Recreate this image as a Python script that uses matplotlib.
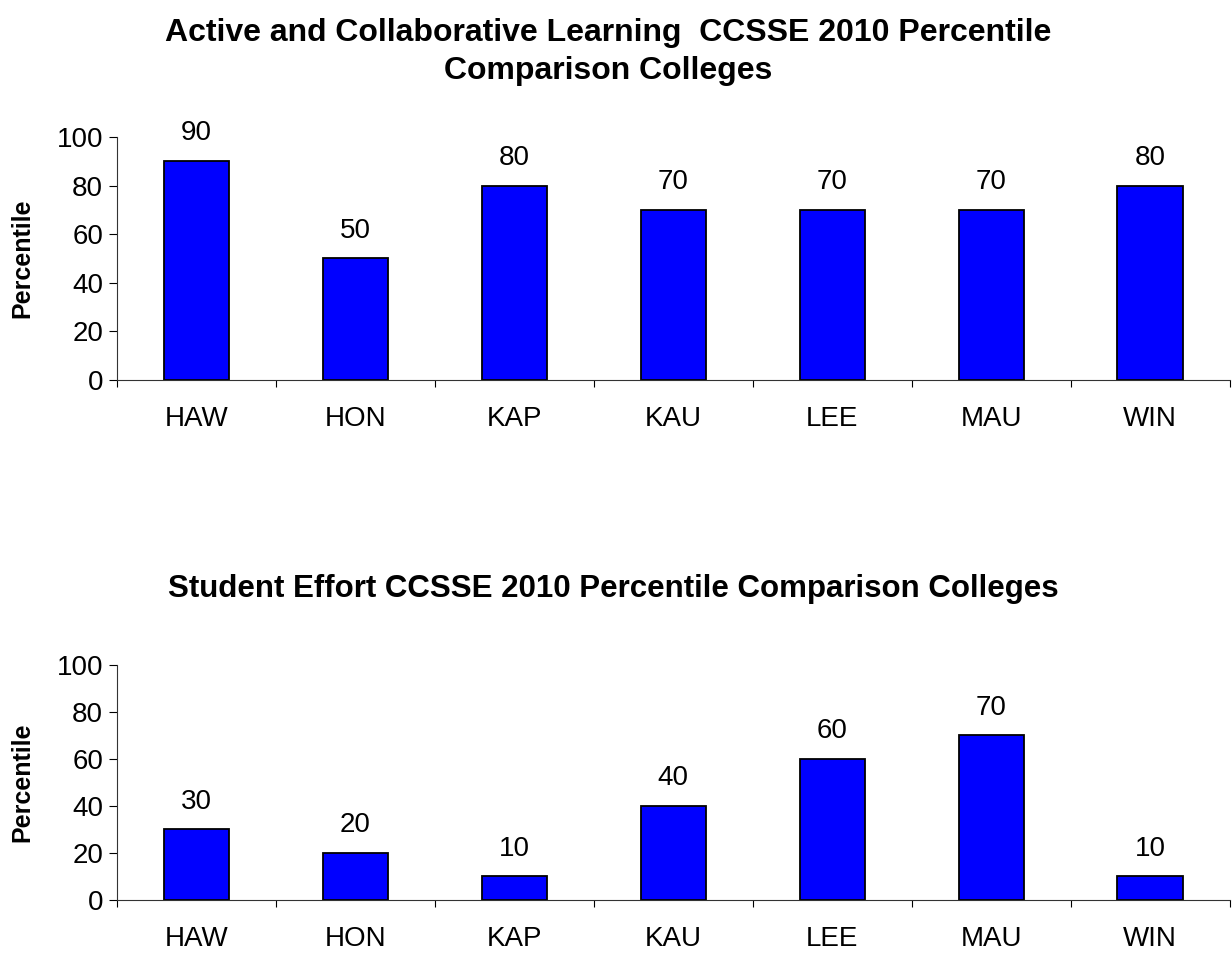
import matplotlib
matplotlib.use("Agg")
from matplotlib import pyplot as plt
import numpy as np

colleges = ["HAW", "HON", "KAP", "KAU", "LEE", "MAU", "WIN"]
active_learning = [90, 50, 80, 70, 70, 70, 80]
student_effort = [30, 20, 10, 40, 60, 70, 10]

title_top = "Active and Collaborative Learning  CCSSE 2010 Percentile\nComparison Colleges"
title_bottom = "Student Effort CCSSE 2010 Percentile Comparison Colleges"

plt.rcParams['font.family'] = ['Liberation Sans', 'DejaVu Sans']


def draw_panel(ax, values):
    x = np.arange(len(colleges))
    ax.bar(x, values, width=0.41, color="#0000FF", edgecolor="black", linewidth=1.3)
    for xi, v in zip(x, values):
        ax.annotate(str(v), (xi, v), xytext=(0, 20), textcoords="offset points",
                    ha="center", va="center", fontsize=20)
    ax.set_xlim(-0.5, len(colleges) - 0.5)
    ax.set_ylim(0, 100)
    ax.set_yticks(range(0, 101, 20))
    ax.set_xticks(x)
    ax.set_xticklabels(colleges, fontsize=20)
    ax.set_xticks(np.arange(-0.5, len(colleges)), minor=True)
    ax.tick_params(axis="x", which="major", length=0, pad=19)
    ax.tick_params(axis="x", which="minor", length=5, direction="out", width=0.8)
    ax.tick_params(axis="y", labelsize=20, length=6, direction="out", width=0.8, pad=4)
    ax.spines["top"].set_visible(False)
    ax.spines["right"].set_visible(False)
    for s in ("left", "bottom"):
        ax.spines[s].set_linewidth(0.8)
        ax.spines[s].set_color("#333333")
    ax.set_ylabel("Percentile", fontsize=18, fontweight="bold", labelpad=16)


def main():
    fig = plt.figure(figsize=(12.32, 9.76), dpi=100)
    ax1 = fig.add_axes([0.095, 0.6107, 0.903, 0.249])
    ax2 = fig.add_axes([0.095, 0.0779, 0.903, 0.241])
    draw_panel(ax1, active_learning)
    draw_panel(ax2, student_effort)
    fig.text(0.494, 1 - 52 / 976, title_top, ha="center", va="center",
             fontsize=23, fontweight="bold", linespacing=1.35)
    fig.text(0.498, 1 - 589 / 976, title_bottom, ha="center", va="center",
             fontsize=22.5, fontweight="bold")
    fig.savefig("out.png", dpi=100)


if __name__ == "__main__":
    main()
